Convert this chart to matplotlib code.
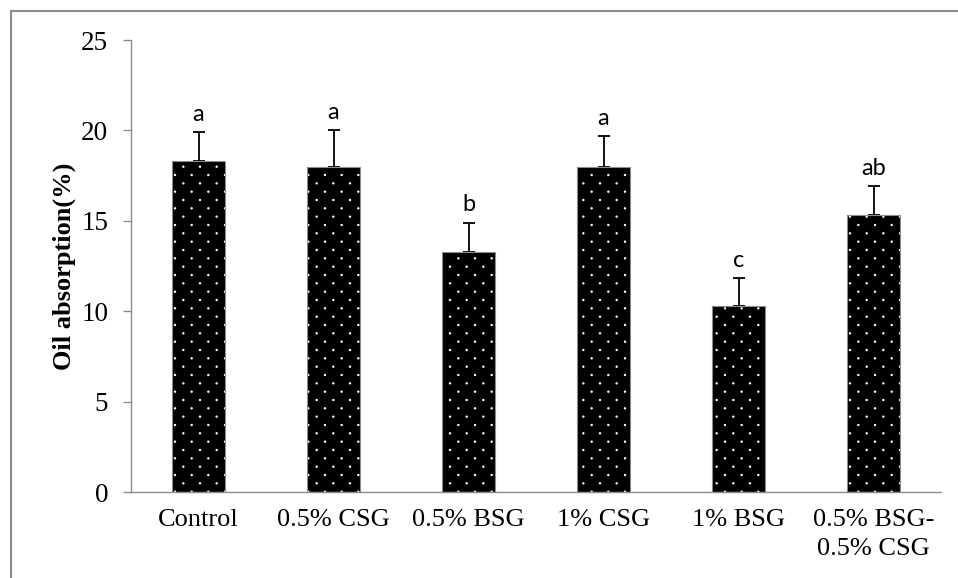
import numpy as np
import matplotlib
matplotlib.use("Agg")
import matplotlib.pyplot as plt
import matplotlib.hatch as mhatch
from matplotlib.path import Path
from matplotlib.lines import Line2D

# ---- data ----
categories = ["Control", "0.5% CSG", "0.5% BSG", "1% CSG", "1% BSG", "0.5% BSG-\n0.5% CSG"]
oil_absorption = [18.3, 18.0, 13.3, 18.0, 10.3, 15.3]
std_err = [1.6, 2.0, 1.6, 1.7, 1.55, 1.6]
letters = ["a", "a", "b", "a", "c", "ab"]
y_ticks = [0, 5, 10, 15, 20, 25]


# ---- custom dot hatch (rows twice as dense as columns, staggered) ----
class _StaggeredDots(mhatch.HatchPatternBase):
    filled = True

    def __init__(self, hatch, density):
        nc = hatch.count('.') * density
        self.nc = nc
        circ = Path.unit_circle()
        self.shape_vertices = circ.vertices
        self.shape_codes = circ.codes
        if nc == 0:
            self.num_vertices = 0
            self.centers = []
            return
        nr = 2 * nc
        centers = []
        for r in range(nr + 1):
            yy = r / nr
            if r % 2 == 0:
                xs = np.arange(nc + 1) / nc
            else:
                xs = (np.arange(nc) + 0.5) / nc
            centers += [(x, yy) for x in xs]
        self.centers = np.array(centers)
        self.num_vertices = len(centers) * len(self.shape_vertices)

    def set_vertices_and_codes(self, vertices, codes):
        rad = 0.005
        parts = [self.shape_vertices * rad + c for c in self.centers]
        np.concatenate(parts, out=vertices)
        codes[:] = np.tile(self.shape_codes, len(self.centers))


mhatch._hatch_types = [(_StaggeredDots if t is mhatch.SmallFilledCircles else t)
                       for t in mhatch._hatch_types]

plt.rcParams['hatch.linewidth'] = 1.0
plt.rcParams['font.family'] = ['Liberation Serif', 'DejaVu Serif']

fig = plt.figure(figsize=(9.58, 5.78), dpi=100)
ax = fig.add_axes([131 / 958, 1 - 492 / 578, (941 - 131) / 958, (492 - 40) / 578])

x = np.arange(len(categories))
width = 0.39
grey = '#8c8c8c'

ax.errorbar(x, oil_absorption, yerr=[np.zeros(len(x)), std_err], fmt='none',
            ecolor='black', elinewidth=1.3, capsize=4.3, capthick=1.3, zorder=1)
ax.bar(x, oil_absorption, width, color='black', edgecolor='white', linewidth=0,
       hatch='.', zorder=2)
ax.bar(x, oil_absorption, width, fill=False, edgecolor=grey, linewidth=0.8, zorder=3)

for xi, v, e, lab in zip(x, oil_absorption, std_err, letters):
    ax.annotate(lab, (xi, v + e), xytext=(0, 8), textcoords='offset points',
                ha='center', va='baseline', fontsize=17, family=['Lato', 'DejaVu Sans'])

ax.set_xlim(-0.5, len(categories) - 0.5)
ax.set_ylim(0, 25)
ax.set_yticks(y_ticks)
ax.set_xticks(x)
ax.set_xticklabels(categories, fontsize=19, linespacing=1.4)
ax.tick_params(axis='y', labelsize=19.5, length=5.8, width=1.0, color=grey, pad=10.5)
ax.tick_params(axis='x', length=0, pad=12.5)
for s in ['top', 'right']:
    ax.spines[s].set_visible(False)
for s in ['left', 'bottom']:
    ax.spines[s].set_color(grey)
    ax.spines[s].set_linewidth(1.0)
ax.set_ylabel("Oil absorption(%)", fontsize=19, fontweight='bold', labelpad=4)

# outer frame (partially cropped)
fig.add_artist(Line2D([10.5 / 958, 10.5 / 958], [0, 1 - 10.5 / 578],
                      transform=fig.transFigure, color=grey, lw=1.5))
fig.add_artist(Line2D([10.5 / 958, 1], [1 - 10.5 / 578, 1 - 10.5 / 578],
                      transform=fig.transFigure, color=grey, lw=1.5))

fig.savefig("out.png", dpi=100)
